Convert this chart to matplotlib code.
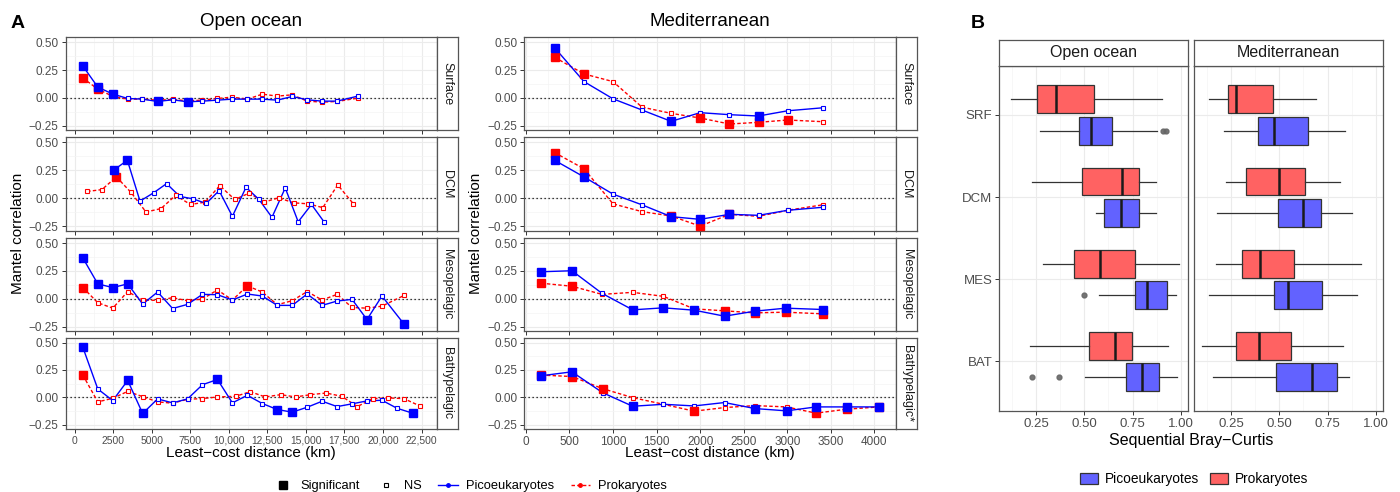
import matplotlib
matplotlib.use('Agg')
import matplotlib.pyplot as plt
from matplotlib.lines import Line2D
from matplotlib.patches import Patch
from matplotlib.ticker import FixedLocator, FuncFormatter
import numpy as np

plt.rcParams['font.family'] = ['Liberation Sans', 'DejaVu Sans']

# ---------------- data, panel A (Mantel correlograms) ----------------
layers = ['Surface', 'DCM', 'Mesopelagic', 'Bathypelagic']
med_layers = ['Surface', 'DCM', 'Mesopelagic', 'Bathypelagic*']

# Open ocean
oo_srf_x = [500, 1490, 2480, 3430, 4380, 5370, 6340, 7330, 8280, 9250, 10220,
            11200, 12170, 13140, 14110, 15080, 16050, 17020, 18360]
oo_srf_pico = [0.29, 0.096, 0.033, -0.006, -0.012, -0.033, -0.018, -0.036, -0.030, -0.021,
               -0.012, -0.012, -0.012, -0.021, 0.012, -0.018, -0.030, -0.030, 0.015]
oo_srf_pico_sig = [1, 1, 1, 0, 0, 1, 0, 1, 0, 0, 0, 0, 0, 0, 0, 0, 0, 0, 0]
oo_srf_prok = [0.18, 0.078, 0.012, -0.012, -0.012, -0.021, -0.015, -0.027, -0.021, -0.006,
               0.006, -0.012, 0.033, 0.015, 0.027, -0.030, -0.039, -0.033, -0.003]
oo_srf_prok_sig = [1, 1, 0, 0, 0, 0, 0, 0, 0, 0, 0, 0, 0, 0, 0, 0, 0, 0, 0]

oo_dcm_pico_x = [2545, 3408, 4228, 5112, 5953, 6816, 7658, 8520, 9361, 10224, 11109,
                 11950, 12791, 13654, 14495, 15358, 16200]
oo_dcm_pico = [0.254, 0.339, -0.027, 0.048, 0.13, 0.015, -0.006, -0.048, 0.067, -0.163,
               0.097, -0.012, -0.172, 0.091, -0.212, -0.057, -0.218]
oo_dcm_pico_sig = [1, 1, 0, 0, 0, 0, 0, 0, 0, 0, 0, 0, 0, 0, 0, 0, 0]
oo_dcm_prok_x = [798, 1747, 2696, 3645, 4616, 5587, 6536, 7506, 8455, 9404, 10375, 11324,
                 12273, 13222, 14193, 15142, 16092, 17062, 18076]
oo_dcm_prok = [0.06, 0.076, 0.19, 0.051, -0.124, -0.094, 0.024, -0.057, -0.036, 0.112,
               -0.012, 0.045, -0.036, 0.003, -0.042, -0.051, -0.085, 0.118, -0.051]
oo_dcm_prok_sig = [0, 0, 1, 0, 0, 0, 0, 0, 0, 0, 0, 0, 0, 0, 0, 0, 0, 0, 0]

oo_mes_x = [518, 1488, 2459, 3430, 4400, 5371, 6342, 7312, 8283, 9254, 10224, 11195,
            12166, 13136, 14107, 15078, 16049, 17019, 17990, 18960, 19931, 21376]
oo_mes_pico = [0.366, 0.133, 0.1, 0.133, -0.048, 0.06, -0.088, -0.051, 0.039, 0.036, -0.012,
               0.042, 0.024, -0.06, -0.06, 0.042, -0.06, -0.021, -0.006, -0.187, 0.024, -0.23]
oo_mes_pico_sig = [1, 1, 1, 1, 0, 0, 0, 0, 0, 0, 0, 0, 0, 0, 0, 0, 0, 0, 0, 1, 0, 1]
oo_mes_prok = [0.1, -0.036, -0.085, 0.064, -0.012, -0.015, 0.009, -0.018, -0.003, 0.079, -0.012,
               0.115, 0.06, -0.054, -0.018, 0.064, -0.012, 0.039, -0.079, -0.085, -0.067, 0.03]
oo_mes_prok_sig = [1, 0, 0, 0, 0, 0, 0, 0, 0, 0, 0, 1, 0, 0, 0, 0, 0, 0, 0, 0, 0, 0]

oo_bat_pico_x = [518, 1488, 2459, 3430, 4400, 5371, 6342, 7312, 8283, 9254, 10224, 11195,
                 12166, 13136, 14107, 15078, 16049, 17019, 17990, 18960, 19931, 20902, 21915]
oo_bat_pico = [0.457, 0.076, -0.03, 0.154, -0.148, -0.015, -0.051, -0.015, 0.115, 0.163, -0.051,
               0.018, -0.057, -0.112, -0.136, -0.091, -0.036, -0.085, -0.06, -0.033, -0.027,
               -0.1, -0.145]
oo_bat_pico_sig = [1, 0, 0, 1, 1, 0, 0, 0, 0, 1, 0, 0, 0, 1, 1, 0, 0, 0, 0, 0, 0, 0, 1]
oo_bat_prok_x = [518, 1488, 2459, 3430, 4400, 5371, 6342, 7312, 8283, 9254, 10440, 11389,
                 12360, 13352, 14323, 15293, 16307, 17321, 18335, 19327, 20341, 21355, 22390]
oo_bat_prok = [0.203, -0.042, -0.009, 0.054, 0.006, -0.042, -0.054, -0.018, -0.012, 0.003,
               0.009, 0.051, 0.003, 0.024, 0.003, 0.024, 0.039, 0.009, -0.085, -0.012,
               -0.006, -0.012, -0.079]
oo_bat_prok_sig = [1] + [0] * 22

# Mediterranean
md_x = [330, 667, 1000, 1333, 1667, 2000, 2337, 2670, 3004, 3406]
md_srf_pico = [0.451, 0.146, -0.009, -0.11, -0.212, -0.134, -0.152, -0.164, -0.117, -0.09]
md_srf_pico_sig = [1, 0, 0, 0, 1, 0, 0, 1, 0, 0]
md_srf_prok = [0.365, 0.215, 0.146, -0.084, -0.14, -0.182, -0.236, -0.221, -0.2, -0.215]
md_srf_prok_sig = [1, 1, 0, 0, 0, 1, 1, 1, 1, 0]

md_dcm_pico = [0.339, 0.19, 0.036, -0.06, -0.166, -0.19, -0.145, -0.154, -0.109, -0.082]
md_dcm_pico_sig = [1, 1, 0, 0, 1, 1, 1, 0, 0, 0]
md_dcm_prok = [0.408, 0.263, -0.051, -0.121, -0.16, -0.251, -0.145, -0.163, -0.109, -0.06]
md_dcm_prok_sig = [1, 1, 0, 0, 1, 1, 1, 0, 0, 0]

md_mes_x = [176, 529, 874, 1226, 1579, 1931, 2280, 2628, 2981, 3410]
md_mes_pico = [0.242, 0.251, 0.048, -0.1, -0.082, -0.103, -0.157, -0.112, -0.085, -0.097]
md_mes_pico_sig = [1, 1, 0, 1, 1, 1, 1, 1, 1, 1]
md_mes_prok = [0.139, 0.112, 0.039, 0.057, 0.021, -0.091, -0.109, -0.127, -0.121, -0.136]
md_mes_prok_sig = [1, 1, 0, 0, 0, 0, 1, 1, 1, 1]

md_bat_x = [176, 529, 881, 1226, 1579, 1931, 2280, 2628, 2992, 3330, 3682, 4054]
md_bat_pico = [0.197, 0.233, 0.042, -0.082, -0.064, -0.079, -0.048, -0.103, -0.124, -0.088,
               -0.088, -0.088]
md_bat_pico_sig = [1, 1, 0, 1, 0, 0, 0, 1, 1, 1, 1, 1]
md_bat_prok = [0.203, 0.19, 0.079, -0.003, -0.064, -0.127, -0.094, -0.076, -0.088, -0.145,
               -0.109, -0.088]
md_bat_prok_sig = [1, 1, 1, 0, 0, 1, 0, 0, 0, 1, 1, 1]

# ---------------- data, panel B (sequential Bray-Curtis) ----------------
box_layers = ['SRF', 'DCM', 'MES', 'BAT']
# (whisker low, q1, median, q3, whisker high)
oo_prok_box = [(0.122, 0.257, 0.352, 0.548, 0.904), (0.231, 0.490, 0.693, 0.784, 0.870),
               (0.285, 0.445, 0.583, 0.762, 0.991), (0.220, 0.523, 0.658, 0.749, 0.935)]
oo_pico_box = [(0.273, 0.471, 0.534, 0.641, 0.876), (0.560, 0.600, 0.690, 0.784, 0.869),
               (0.574, 0.760, 0.825, 0.928, 0.972), (0.506, 0.716, 0.800, 0.888, 0.977)]
oo_pico_out = [[0.907, 0.925], [], [0.499], [0.229, 0.371]]
md_prok_box = [(0.138, 0.234, 0.278, 0.465, 0.688), (0.226, 0.325, 0.499, 0.632, 0.815),
               (0.172, 0.309, 0.402, 0.578, 0.922), (0.098, 0.278, 0.397, 0.559, 0.829)]
md_pico_box = [(0.212, 0.390, 0.473, 0.646, 0.838), (0.178, 0.492, 0.622, 0.717, 0.878),
               (0.135, 0.472, 0.543, 0.719, 0.904), (0.156, 0.485, 0.669, 0.801, 0.862)]
md_pico_out = [[], [], [], []]

BLUE, RED = '#0000FF', '#FF0000'
BLUE_FILL, RED_FILL = '#6262FF', '#FF6262'
GRID_MAJ, GRID_MIN = '#EBEBEB', '#F4F4F4'
BORDER = '#555555'
TICKC = '#4D4D4D'

W, H = 1400, 492
fig = plt.figure(figsize=(W / 100, H / 100), dpi=100)


def px_axes(x0, y0, x1, y1):
    return fig.add_axes([x0 / W, 1 - y1 / H, (x1 - x0) / W, (y1 - y0) / H])


def style(ax, tick_size):
    for s in ax.spines.values():
        s.set_color(BORDER)
        s.set_linewidth(0.9)
    ax.set_axisbelow(True)
    ax.grid(which='major', color=GRID_MAJ, lw=0.8)
    ax.grid(which='minor', color=GRID_MIN, lw=0.5)
    ax.tick_params(which='major', length=3, width=0.7, color='#333333',
                   labelsize=tick_size, labelcolor=TICKC, pad=2)
    ax.tick_params(which='minor', length=0)


def strip(x0, y0, x1, y1, label, rot, size):
    s = px_axes(x0, y0, x1, y1)
    s.set_xticks([])
    s.set_yticks([])
    s.set_facecolor('white')
    for sp in s.spines.values():
        sp.set_color(BORDER)
        sp.set_linewidth(0.9)
    s.text(0.5, 0.5, label, rotation=rot, ha='center', va='center',
           fontsize=size, color='#1A1A1A', transform=s.transAxes)


def km_fmt(v, pos):
    return f'{v:,.0f}' if v >= 10000 else f'{v:.0f}'


def corr_fmt(v, pos):
    return f'{v:.2f}'.replace('-', '\u2212')


def draw_series(ax, x, y, sig, color, ls):
    x = np.asarray(x)
    y = np.asarray(y)
    sig = np.asarray(sig, dtype=bool)
    ax.plot(x, y, color=color, lw=1.0, linestyle=ls, zorder=3)
    ax.plot(x[~sig], y[~sig], 's', ms=3.2, mfc='white', mec=color, mew=0.8, zorder=4)
    ax.plot(x[sig], y[sig], 's', ms=6, color=color, zorder=5)


rows_px = [(37.3, 130), (137.3, 230.5), (238, 331), (337.7, 429)]
dash = (0, (2.5, 1.6))

columns = [
    dict(x0=65.7, x1=436.7, title='Open ocean', strips=layers, xsize=7.4,
         xticks=np.arange(0, 22501, 2500), xminor=np.arange(1250, 23800, 2500),
         series=[(oo_srf_x, oo_srf_pico, oo_srf_pico_sig, oo_srf_x, oo_srf_prok, oo_srf_prok_sig),
                 (oo_dcm_pico_x, oo_dcm_pico, oo_dcm_pico_sig, oo_dcm_prok_x, oo_dcm_prok, oo_dcm_prok_sig),
                 (oo_mes_x, oo_mes_pico, oo_mes_pico_sig, oo_mes_x, oo_mes_prok, oo_mes_prok_sig),
                 (oo_bat_pico_x, oo_bat_pico, oo_bat_pico_sig, oo_bat_prok_x, oo_bat_prok, oo_bat_prok_sig)]),
    dict(x0=524.3, x1=896, title='Mediterranean', strips=med_layers, xsize=8.5,
         xticks=np.arange(0, 4001, 500), xminor=np.arange(250, 4300, 500),
         series=[(md_x, md_srf_pico, md_srf_pico_sig, md_x, md_srf_prok, md_srf_prok_sig),
                 (md_x, md_dcm_pico, md_dcm_pico_sig, md_x, md_dcm_prok, md_dcm_prok_sig),
                 (md_mes_x, md_mes_pico, md_mes_pico_sig, md_mes_x, md_mes_prok, md_mes_prok_sig),
                 (md_bat_x, md_bat_pico, md_bat_pico_sig, md_bat_x, md_bat_prok, md_bat_prok_sig)]),
]

for col in columns:
    allx = np.concatenate([np.r_[s[0], s[3]] for s in col['series']])
    span = allx.max() - allx.min()
    xlim = (allx.min() - 0.05 * span, allx.max() + 0.05 * span)
    for i, (y0, y1) in enumerate(rows_px):
        ax = px_axes(col['x0'], y0, col['x1'], y1)
        style(ax, 8.5)
        px_, py_, ps_, rx_, ry_, rs_ = col['series'][i]
        ax.axhline(0, color='black', lw=0.9, linestyle=(0, (1, 2.2)), zorder=2)
        draw_series(ax, rx_, ry_, rs_, RED, dash)
        draw_series(ax, px_, py_, ps_, BLUE, '-')
        ax.set_xlim(*xlim)
        ax.set_ylim(-0.29, 0.545)
        ax.yaxis.set_major_locator(FixedLocator([-0.25, 0, 0.25, 0.5]))
        ax.yaxis.set_minor_locator(FixedLocator([-0.125, 0.125, 0.375]))
        ax.yaxis.set_major_formatter(FuncFormatter(corr_fmt))
        ax.xaxis.set_major_locator(FixedLocator(col['xticks']))
        ax.xaxis.set_minor_locator(FixedLocator(col['xminor']))
        if i == 3:
            ax.xaxis.set_major_formatter(FuncFormatter(km_fmt))
            ax.tick_params(axis='x', labelsize=col['xsize'])
        else:
            ax.tick_params(axis='x', labelbottom=False)
        strip(col['x1'], y0, col['x1'] + 21, y1, col['strips'][i], 270, 9)
    xc = (col['x0'] + col['x1']) / 2
    fig.text(xc / W, 1 - 22 / H, col['title'], ha='center', va='center', fontsize=13.5)
    fig.text(xc / W, 1 - 453 / H, 'Least\u2212cost distance (km)', ha='center', va='center',
             fontsize=11)
    fig.text((col['x0'] - 48) / W, 1 - 233 / H, 'Mantel correlation', rotation=90,
             ha='center', va='center', fontsize=11)

fig.text(18 / W, 1 - 23 / H, 'A', ha='center', va='center', fontsize=14, fontweight='bold')
fig.text(978 / W, 1 - 24 / H, 'B', ha='center', va='center', fontsize=14, fontweight='bold')

# legend panel A
leg_a = [
    Line2D([], [], marker='s', color='black', linestyle='none', ms=6),
    Line2D([], [], marker='s', mfc='white', mec='black', mew=0.8, linestyle='none', ms=3.2),
    Line2D([], [], color=BLUE, lw=1, marker='o', ms=2.5),
    Line2D([], [], color=RED, lw=1, linestyle=dash, marker='o', ms=2.5),
]
fig.legend(leg_a, ['Significant', 'NS', 'Picoeukaryotes', 'Prokaryotes'], ncol=4,
           loc='center', bbox_to_anchor=(470 / W, 1 - 486 / H), frameon=False,
           fontsize=9.3, handlelength=1.5, handletextpad=0.6, columnspacing=1.3)

# ---------------- panel B ----------------
def box_stats(vals, outs):
    return [dict(whislo=v[0], q1=v[1], med=v[2], q3=v[3], whishi=v[4], fliers=o)
            for v, o in zip(vals, outs)]


b_panels = [(999.3, 1188.3, 'Open ocean', oo_prok_box, oo_pico_box, oo_pico_out),
            (1194.3, 1383.3, 'Mediterranean', md_prok_box, md_pico_box, md_pico_out)]
pos = np.arange(len(box_layers))
for j, (x0, x1, title, prok, pico, pico_out) in enumerate(b_panels):
    ax = px_axes(x0, 65.7, x1, 410.7)
    style(ax, 9.5)
    common = dict(orientation='horizontal', widths=0.34, patch_artist=True, showcaps=False,
                  medianprops=dict(color='#1A1A1A', lw=1.8),
                  whiskerprops=dict(color='#333333', lw=0.9),
                  flierprops=dict(marker='o', mfc='#666666', mec='#666666', ms=3.5, alpha=0.9))
    ax.bxp(box_stats(prok, [[]] * 4), positions=pos - 0.19,
           boxprops=dict(facecolor=RED_FILL, edgecolor='#333333', lw=0.9), **common)
    ax.bxp(box_stats(pico, pico_out), positions=pos + 0.19,
           boxprops=dict(facecolor=BLUE_FILL, edgecolor='#333333', lw=0.9), **common)
    ax.set_xlim(0.06, 1.038)
    ax.set_ylim(len(box_layers) - 0.4, -0.6)
    ax.xaxis.set_major_locator(FixedLocator([0.25, 0.5, 0.75, 1.0]))
    ax.xaxis.set_minor_locator(FixedLocator([0.125, 0.375, 0.625, 0.875]))
    ax.xaxis.set_major_formatter(FuncFormatter(lambda v, p: f'{v:.2f}'))
    ax.yaxis.set_major_locator(FixedLocator(pos))
    if j == 0:
        ax.set_yticklabels(box_layers)
    else:
        ax.tick_params(axis='y', labelleft=False, length=0)
    strip(x0, 40, x1, 65.7, title, 0, 11.5)

fig.text(1191 / W, 1 - 440 / H, 'Sequential Bray\u2212Curtis', ha='center', va='center',
         fontsize=11.5)
leg_b = [Patch(facecolor=BLUE_FILL, edgecolor='#333333', lw=0.9),
         Patch(facecolor=RED_FILL, edgecolor='#333333', lw=0.9)]
fig.legend(leg_b, ['Picoeukaryotes', 'Prokaryotes'], ncol=2, loc='center',
           bbox_to_anchor=(1194 / W, 1 - 479 / H), frameon=False, fontsize=9.9,
           handlelength=1.3, handleheight=0.9, handletextpad=0.5, columnspacing=0.8)

fig.savefig('out.png', dpi=100)
